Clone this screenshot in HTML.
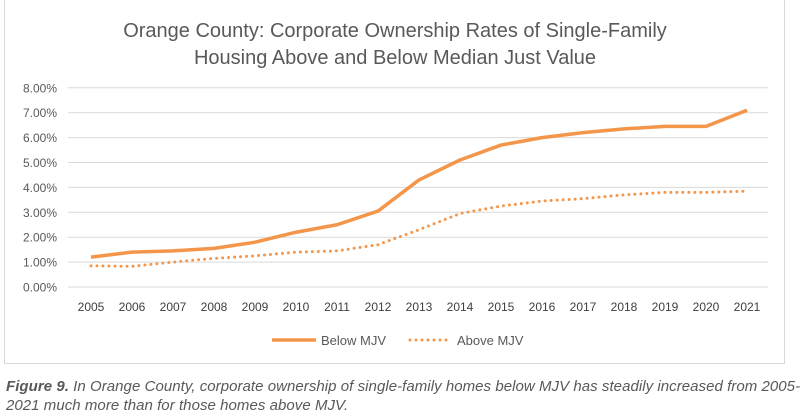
<!DOCTYPE html>
<html><head><meta charset="utf-8"><style>
body{margin:0;background:#fff;width:804px;height:419px;overflow:hidden;font-family:"Liberation Sans",sans-serif}
#frame{position:absolute;left:4px;top:-2px;width:781px;height:366px;border:1px solid #d9d9d9;box-sizing:border-box}
#cap{position:absolute;left:6px;top:377px;font-size:15px;letter-spacing:0.05px;font-style:italic;color:#595959;line-height:19px;white-space:nowrap}
</style></head><body>
<div id="frame"></div>
<svg width="804" height="419" style="position:absolute;left:0;top:0">
<g font-family="Liberation Sans, sans-serif" fill="#595959">
<text x="395" y="37" text-anchor="middle" font-size="20">Orange County: Corporate Ownership Rates of Single-Family</text>
<text x="395" y="64" text-anchor="middle" font-size="20">Housing Above and Below Median Just Value</text>
</g>
<g id="grid"></g><g id="series"></g>
<g>
<line x1="272" y1="340" x2="316" y2="340" stroke="#f4964a" stroke-width="3.5"/>
<text x="321" y="345" font-size="13" fill="#595959">Below MJV</text>
<line x1="410" y1="340" x2="448" y2="340" stroke="#f4964a" stroke-width="3" stroke-dasharray="0 6" stroke-linecap="round"/>
<text x="457" y="345" font-size="13" fill="#595959">Above MJV</text>
</g>
</svg>
<div id="cap"><b>Figure 9.</b> In Orange County, corporate ownership of single-family homes below MJV has steadily increased from 2005-<br>2021 much more than for those homes above MJV.</div>
<script>
const years=[2005,2006,2007,2008,2009,2010,2011,2012,2013,2014,2015,2016,2017,2018,2019,2020,2021];
const below=[1.2,1.4,1.45,1.55,1.8,2.2,2.5,3.05,4.3,5.1,5.7,6.0,6.2,6.35,6.45,6.45,7.1];
const above=[0.85,0.83,1.0,1.15,1.25,1.4,1.45,1.7,2.3,2.95,3.25,3.45,3.55,3.7,3.8,3.8,3.85];
const yTicks=[0,1,2,3,4,5,6,7,8];
const NS='http://www.w3.org/2000/svg';
const x=i=>91+i*41, y=v=>287-v*24.9;
const grid=document.getElementById('grid'), ser=document.getElementById('series');
function mk(tag,attrs,parent){const e=document.createElementNS(NS,tag);for(const k in attrs)e.setAttribute(k,attrs[k]);parent.appendChild(e);return e;}
yTicks.forEach(t=>{
 const l=mk('line',{x1:68,x2:768,y1:y(t),y2:y(t),stroke:'#d9d9d9','stroke-width':1},grid);
 
 
 const tx=mk('text',{x:57,y:y(t)+4.5,'text-anchor':'end','font-size':12,fill:'#595959','font-family':'Liberation Sans, sans-serif'},grid);
 tx.textContent=t.toFixed(2)+'%';
 
 
});
years.forEach((yr,i)=>{
 const tx=mk('text',{x:x(i),y:311,'text-anchor':'middle','font-size':12,fill:'#404040','font-family':'Liberation Sans, sans-serif'},grid);
 tx.textContent=yr;
 
 
});
const p1=mk('polyline',{points:below.map((v,i)=>x(i)+','+y(v)).join(' '),fill:'none',stroke:'#f4964a','stroke-width':3.5,'stroke-linejoin':'round'},ser);


const p2=mk('polyline',{points:above.map((v,i)=>x(i)+','+y(v)).join(' '),fill:'none',stroke:'#f4964a','stroke-width':3,'stroke-dasharray':'0 6','stroke-linecap':'round'},ser);


</script>
</body></html>
